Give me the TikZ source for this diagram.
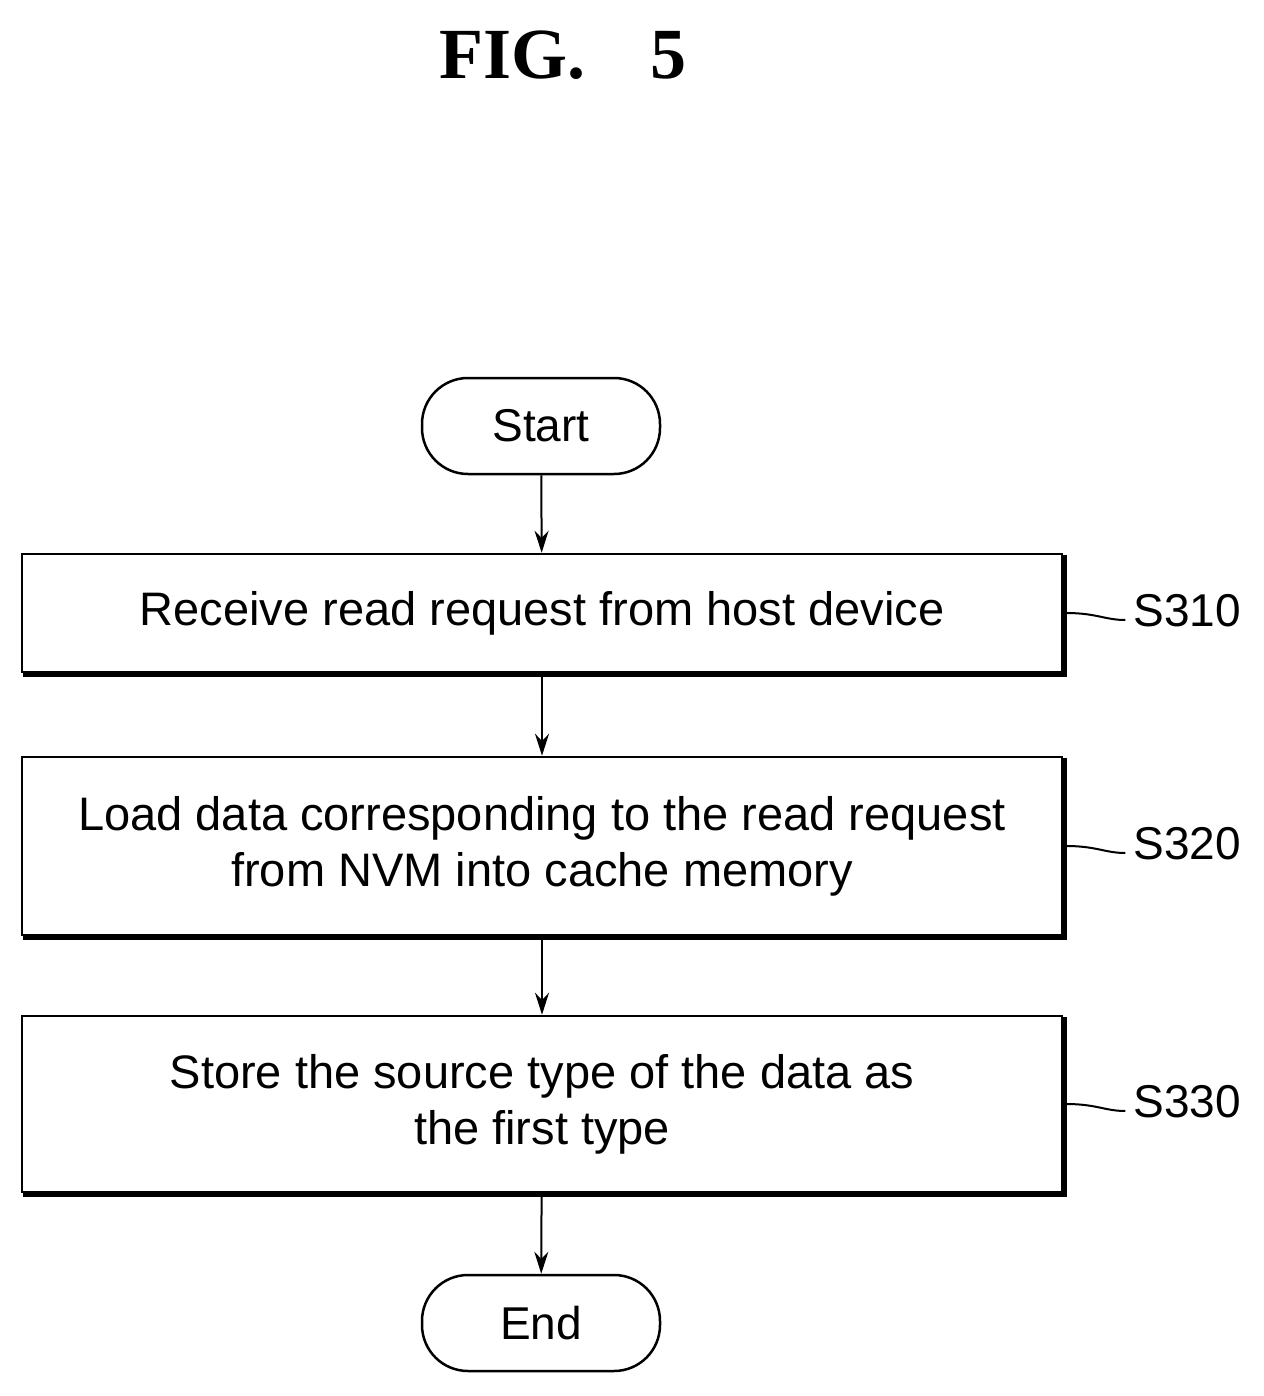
\documentclass[tikz,border=0pt]{standalone}
\usepackage{fontspec}
\setmainfont{Liberation Sans}
\newfontfamily\titlefont{Liberation Serif}
\usetikzlibrary{arrows.meta}
\begin{document}
\begin{tikzpicture}[x=1pt,y=-1pt,
  box/.style={draw,line width=2.5pt,minimum width=1040pt,align=center,font=\fontsize{47}{56}\selectfont,inner sep=0pt},
  term/.style={draw,line width=2.5pt,rounded corners=46pt,minimum width=238pt,minimum height=96pt,font=\fontsize{46}{52}\selectfont},
  arr/.style={-{Stealth[length=22pt,width=14pt]},line width=2pt},
  lab/.style={font=\fontsize{46}{52}\selectfont,anchor=west,inner sep=0pt},
  sq/.style={line width=2pt}]
\useasboundingbox (0,0) rectangle (1263,1396);
\node[font=\titlefont\bfseries\fontsize{72}{80}\selectfont] (title) at (563,55) {FIG.\hspace{0.9em}5};
\node[term] (start) at (541,426) {Start};
\node[box,minimum height=118pt] (b1) at (542,613) {Receive read request from host device};
\node[box,minimum height=178pt] (b2) at (542,846) {Load data corresponding to the read request\\from NVM into cache memory};
\node[box,minimum height=176pt] (b3) at (542,1104) {Store the source type of the data as\\the first type};
\node[term] (end) at (541,1323) {End};
\foreach \b in {b1,b2,b3}{
  \draw[line width=4pt] ([xshift=2pt,yshift=-2pt]\b.north east) -- ([xshift=2pt,yshift=-2pt]\b.south east) -- ([xshift=2pt,yshift=-2pt]\b.south west);
}
\draw[arr] (start) -- (b1);
\draw[arr] (b1) -- (b2);
\draw[arr] (b2) -- (b3);
\draw[arr] (b3) -- (end);
\foreach \b/\t in {b1/S310,b2/S320,b3/S330}{
  \coordinate (c\b) at ([xshift=62pt]\b.east);
  \draw[sq] ([xshift=3pt]\b.east) .. controls +(30,0) and +(-20,0) .. ([yshift=-7pt]c\b);
  \node[lab] (l\b) at ([xshift=8pt,yshift=2pt]c\b) {\t};
}
\end{tikzpicture}
\end{document}
